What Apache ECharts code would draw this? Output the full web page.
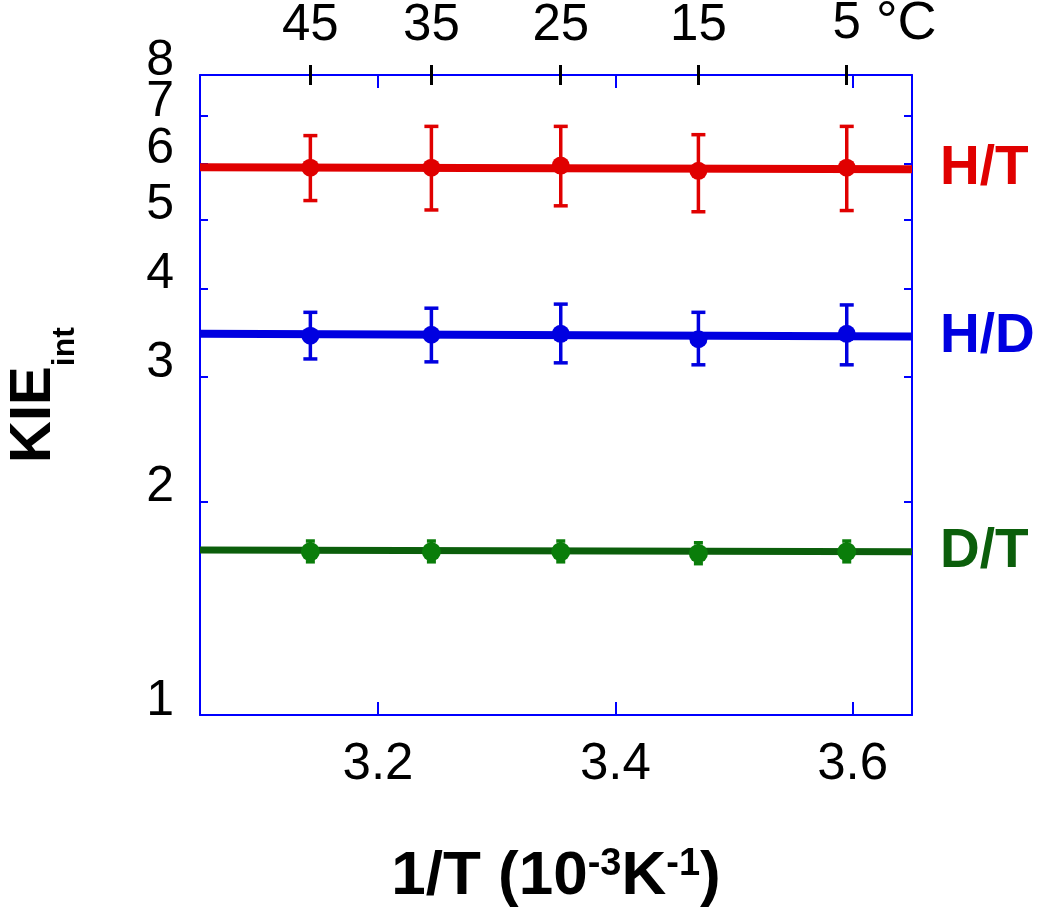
<!DOCTYPE html>
<html>
<head>
<meta charset="utf-8">
<script src="https://cdn.jsdelivr.net/npm/echarts@6/dist/echarts.min.js"></script>
<style>
  html, body { margin: 0; padding: 0; background: #fff; }
  #chart { width: 1050px; height: 919px; }
</style>
</head>
<body>
<div id="chart"></div>
<script>
// 1/T positions of the measurements (10^-3 K^-1) and the matching temperatures
const invT = [3.143, 3.245, 3.354, 3.470, 3.595];
const tempLabels = ['45', '35', '25', '15', '5'];
const xTicks = [3.2, 3.4, 3.6];
const yTicks = [1, 2, 3, 4, 5, 6, 7, 8];

// H/T
const htVal = [5.92, 5.92, 5.96, 5.86, 5.92];
const htLow = [5.32, 5.16, 5.23, 5.13, 5.15];
const htHigh = [6.57, 6.77, 6.77, 6.59, 6.77];
// H/D
const hdVal = [3.43, 3.44, 3.45, 3.39, 3.45];
const hdLow = [3.18, 3.15, 3.14, 3.12, 3.12];
const hdHigh = [3.70, 3.75, 3.80, 3.70, 3.79];
// D/T
const dtVal = [1.70, 1.70, 1.70, 1.69, 1.70];
const dtLow = [1.645, 1.645, 1.645, 1.635, 1.645];
const dtHigh = [1.76, 1.76, 1.76, 1.75, 1.76];

// fitted lines across the plotted range
const fitX = [3.05, 3.65];
const htFit = [5.93, 5.89];
const hdFit = [3.45, 3.42];
const dtFit = [1.71, 1.70];

const FONT = '"Liberation Sans", Arial, sans-serif';
const AXIS_BLUE = '#0000ff';

const sets = [
    { name: 'H/T', val: htVal, low: htLow, high: htHigh, fit: htFit,
      line: '#e00000', dot: '#e00000', text: '#e00000', lw: 8, dotSize: 18, cap: 14 },
    { name: 'H/D', val: hdVal, low: hdLow, high: hdHigh, fit: hdFit,
      line: '#0000e0', dot: '#0000e0', text: '#0000e0', lw: 8, dotSize: 18, cap: 14 },
    { name: 'D/T', val: dtVal, low: dtLow, high: dtHigh, fit: dtFit,
      line: '#0b5e0b', dot: '#0a7d0a', text: '#0b5e0b', lw: 7, dotSize: 19, cap: 9 },
];

function errorBars(s) {
    return {
        type: 'custom',
        name: s.name + ' err',
        xAxisIndex: 0, yAxisIndex: 0,
        z: 3,
        data: invT.map((x, i) => [x, s.low[i], s.high[i]]),
        renderItem: function (params, api) {
            const lo = api.coord([api.value(0), api.value(1)]);
            const hi = api.coord([api.value(0), api.value(2)]);
            const w = s.cap / 2;
            const style = { stroke: s.dot, lineWidth: 3.5 };
            return {
                type: 'group',
                children: [
                    { type: 'line', shape: { x1: lo[0], y1: lo[1], x2: hi[0], y2: hi[1] }, style: style },
                    { type: 'line', shape: { x1: lo[0] - w, y1: lo[1], x2: lo[0] + w, y2: lo[1] }, style: style },
                    { type: 'line', shape: { x1: hi[0] - w, y1: hi[1], x2: hi[0] + w, y2: hi[1] }, style: style },
                ],
            };
        },
    };
}

function fitLine(s) {
    return {
        type: 'line',
        name: s.name,
        xAxisIndex: 0, yAxisIndex: 0,
        z: 2,
        showSymbol: false,
        data: fitX.map((x, i) => [x, s.fit[i]]),
        lineStyle: { color: s.line, width: s.lw },
        endLabel: {
            show: true,
            formatter: s.name,
            distance: 28,
            color: s.text,
            fontFamily: FONT,
            fontWeight: 'bold',
            fontSize: 55,
        },
    };
}

function points(s) {
    return {
        type: 'scatter',
        name: s.name + ' pts',
        xAxisIndex: 0, yAxisIndex: 0,
        z: 4,
        symbol: 'circle',
        symbolSize: s.dotSize,
        data: invT.map((x, i) => [x, s.val[i]]),
        itemStyle: { color: s.dot, opacity: 1 },
    };
}

const series = [];
sets.forEach(s => { series.push(errorBars(s)); series.push(fitLine(s)); series.push(points(s)); });

const topBase = {
    type: 'value', position: 'top', gridIndex: 0,
    min: fitX[0], max: fitX[1],
    splitLine: { show: false },
};

// y tick labels sit a little above their ticks in the original;
// they are split over two left axes (odd / even) so none get dropped as overlapping
const yLabelBase = {
    interval: 0, margin: 26, fontSize: 50, color: '#000', fontFamily: FONT,
    verticalAlign: 'bottom', lineHeight: 28, showMinLabel: true, showMaxLabel: true,
};
const yOdd = yTicks.filter(v => v % 2 === 1);
const yEven = yTicks.filter(v => v % 2 === 0);

const option = {
    animation: false,
    backgroundColor: '#fff',
    grid: { left: 200, right: 138, top: 75, bottom: 204, outerBoundsMode: 'none' },
    xAxis: [
        {
            type: 'value', position: 'bottom',
            min: fitX[0], max: fitX[1],
            axisLine: { lineStyle: { color: AXIS_BLUE, width: 2 } },
            axisTick: { inside: true, length: 13, customValues: xTicks, lineStyle: { color: AXIS_BLUE, width: 2 } },
            axisLabel: { customValues: xTicks, margin: 24, fontSize: 51, color: '#000', fontFamily: FONT,
                formatter: v => v.toFixed(1) },
            splitLine: { show: false },
            name: '{b|1/T (10}{s|-3}{b|K}{s|-1}{b|)}',
            nameLocation: 'middle',
            nameGap: 131,
            nameTextStyle: {
                color: '#000',
                rich: {
                    b: { fontFamily: FONT, fontWeight: 'bold', fontSize: 62, lineHeight: 62, verticalAlign: 'bottom',
                         padding: [30, 0, 0, 0], color: '#000' },
                    s: { fontFamily: FONT, fontWeight: 'bold', fontSize: 38, lineHeight: 38, verticalAlign: 'top',
                         color: '#000' },
                },
            },
        },
        Object.assign({}, topBase, {
            axisLine: { lineStyle: { color: AXIS_BLUE, width: 2 } },
            axisTick: { inside: false, length: 10, customValues: invT, lineStyle: { color: '#000', width: 3 } },
            axisLabel: {
                customValues: invT, margin: 24, fontSize: 51, color: '#000', fontFamily: FONT,
                formatter: function (v) {
                    const i = invT.findIndex(t => Math.abs(t - v) < 1e-6);
                    if (i < 0) return '';
                    if (i === invT.length - 1) return '{g| °C}' + tempLabels[i] + '{u| °C}';
                    return tempLabels[i];
                },
                rich: {
                    g: { fontSize: 54, fontFamily: FONT, color: 'rgba(0,0,0,0)' },
                    u: { fontSize: 54, fontFamily: FONT, color: '#000' },
                },
            },
        }),
        Object.assign({}, topBase, {
            axisLine: { show: false },
            axisTick: { inside: true, length: 10, customValues: invT, lineStyle: { color: '#000', width: 3 } },
            axisLabel: { show: false },
        }),
        Object.assign({}, topBase, {
            axisLine: { show: false },
            axisTick: { inside: true, length: 13, customValues: xTicks, lineStyle: { color: AXIS_BLUE, width: 2 } },
            axisLabel: { show: false },
        }),
    ],
    yAxis: [
        {
            type: 'log', logBase: 10, position: 'left',
            min: 1, max: 8,
            axisLine: { show: true, lineStyle: { color: AXIS_BLUE, width: 2 } },
            axisTick: { show: true, inside: true, length: 8, customValues: yTicks, lineStyle: { color: AXIS_BLUE, width: 2 } },
            axisLabel: Object.assign({ customValues: yOdd }, yLabelBase),
            splitLine: { show: false },
            name: '{a|KIE}{b|int}',
            nameLocation: 'middle',
            nameGap: 135,
            nameRotate: 90,
            nameTextStyle: {
                rich: {
                    a: { fontFamily: FONT, fontWeight: 'bold', fontSize: 58, lineHeight: 60, verticalAlign: 'top', color: '#000' },
                    b: { fontFamily: FONT, fontWeight: 'bold', fontSize: 32, lineHeight: 32, verticalAlign: 'top',
                         padding: [44, 0, 0, 0], color: '#000' },
                },
            },
        },
        {
            type: 'log', logBase: 10, position: 'right',
            min: 1, max: 8,
            axisLine: { show: true, lineStyle: { color: AXIS_BLUE, width: 2 } },
            axisTick: { show: true, inside: true, length: 8, customValues: yTicks, lineStyle: { color: AXIS_BLUE, width: 2 } },
            axisLabel: { show: false },
            splitLine: { show: false },
        },
        {
            type: 'log', logBase: 10, position: 'left',
            min: 1, max: 8,
            axisLine: { show: false },
            axisTick: { show: false },
            axisLabel: Object.assign({ customValues: yEven }, yLabelBase),
            splitLine: { show: false },
        },
    ],
    series: series,
};

const chart = echarts.init(document.getElementById('chart'), null, { renderer: 'canvas' });
chart.setOption(option);
</script>
</body>
</html>
